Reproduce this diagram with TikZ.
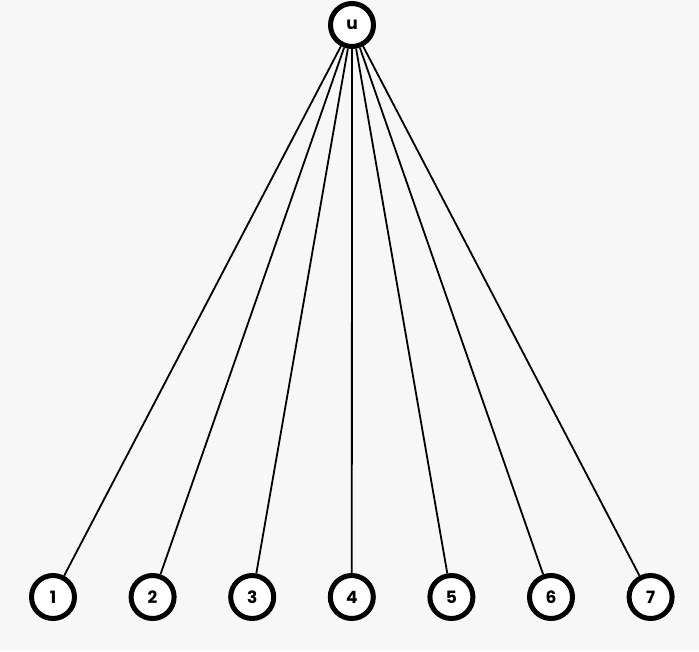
\documentclass[tikz,border=0pt]{standalone}
\usepackage{fontspec}
\setmainfont{Poppins}
\definecolor{bg}{HTML}{F7F7F7}
\begin{document}
\begin{tikzpicture}[x=1pt,y=-1pt,
  vert/.style={circle,draw=black,fill=white,line width=5pt,minimum size=43pt,inner sep=0pt,font=\bfseries\fontsize{17pt}{19pt}\selectfont},
  edge/.style={line width=1.8pt,black}]
\fill[bg] (0,0) rectangle (699,651);
\useasboundingbox (0,0) rectangle (699,651);
\node[vert] (u) at (352,25) {u};
\foreach \i/\x in {1/53,2/152.6,3/252.2,4/351.8,5/451.4,6/551,7/650.6}{
  \node[vert] (n\i) at (\x,597) {\i};
}
\foreach \i in {1,...,7}{
  \draw[edge] (u) -- (n\i);
}
\end{tikzpicture}
\end{document}
